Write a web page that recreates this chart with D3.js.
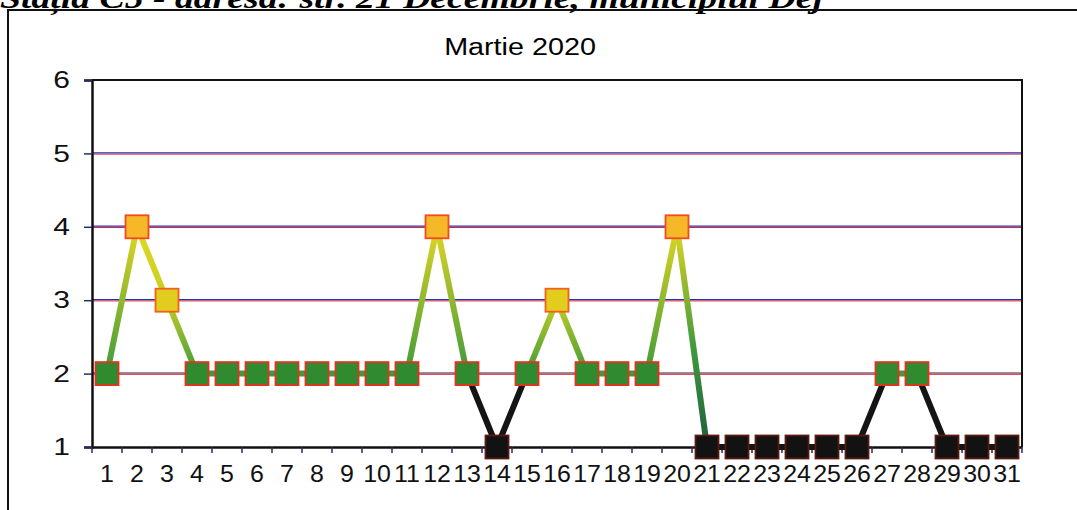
<!DOCTYPE html>
<html>
<head>
<meta charset="utf-8">
<script src="https://cdn.jsdelivr.net/npm/d3@7"></script>
<style>
  body { margin: 0; background: #fff; }
  svg { display: block; }
</style>
</head>
<body>
<svg width="1077" height="510"></svg>
<script>
// data
const days = d3.range(1, 32).map(String);
const values = [2, 4, 3, 2, 2, 2, 2, 2, 2, 2, 2, 4, 2, 1, 2, 3, 2, 2, 2, 4, 1, 1, 1, 1, 1, 1, 2, 2, 1, 1, 1];
const yTicks = [1, 2, 3, 4, 5, 6];
const chartTitle = 'Martie 2020';
const pageHeading = 'Stația C5 - adresa: str. 21 Decembrie, municipiul Dej';

const svg = d3.select('svg');
const margin = { left: 92, top: 80, right: 1022, bottom: 447 };
const stretch = 1.25;   // the scan is wider than it is tall
const font = 'Liberation Sans, Arial, sans-serif';

const x = d3.scaleBand().domain(days).range([margin.left, margin.right]);
const y = d3.scaleLinear().domain([1, 6]).range([margin.bottom, margin.top]);

const markerFill = { 1: '#121212', 2: '#2f8a30', 3: '#e2cc1e', 4: '#f6b828' };
const markerStroke = { 1: '#5a1a10', 2: '#e8301e', 3: '#f0601e', 4: '#f04a1e' };
const lineColor = { 1: '#141414', 2: '#3e9a3c', 3: '#c6d024', 4: '#e2d622' };

// page heading, cut off by the top edge of the scan
svg.append('text')
    .attr('transform', 'translate(0,8) scale(1.3,1)')
    .attr('font-family', 'Liberation Serif, serif')
    .attr('font-weight', 'bold').attr('font-style', 'italic')
    .attr('font-size', 29)
    .text(pageHeading);

// outer frame of the chart object
svg.append('path')
    .attr('d', 'M8,520 L8,10 L1090,10')
    .attr('fill', 'none').attr('stroke', '#111').attr('stroke-width', 2);

svg.append('text')
    .attr('transform', `translate(520,55) scale(${stretch},1)`)
    .attr('text-anchor', 'middle')
    .attr('font-family', font)
    .attr('font-size', 23)
    .text(chartTitle);

// gridlines (scan shows them as a blue/red pair)
const grid = svg.append('g');
yTicks.filter(v => v > 1 && v < 6).forEach(v => {
    grid.append('line')
        .attr('x1', margin.left).attr('x2', margin.right)
        .attr('y1', y(v) - 0.6).attr('y2', y(v) - 0.6)
        .attr('stroke', v === 2 ? '#301c30' : '#1a34b8').attr('stroke-width', 1.2);
    grid.append('line')
        .attr('x1', margin.left).attr('x2', margin.right)
        .attr('y1', y(v) + 0.7).attr('y2', y(v) + 0.7)
        .attr('stroke', '#dc2436').attr('stroke-width', 1);
});

// plot frame top + right
svg.append('path')
    .attr('d', `M${margin.left},${y(6)} L${margin.right},${y(6)} L${margin.right},${y(1)}`)
    .attr('fill', 'none').attr('stroke', '#111').attr('stroke-width', 2);

// y axis
const yAxis = svg.append('g')
    .attr('transform', `translate(${margin.left},0)`)
    .call(d3.axisLeft(y).tickValues(yTicks).tickSize(8).tickFormat(d3.format('d')));
yAxis.select('.domain').attr('stroke', '#111').attr('stroke-width', 2.5);
yAxis.selectAll('.tick line').attr('stroke', '#2a2a6a').attr('stroke-width', 1.5);
yAxis.selectAll('text')
    .attr('x', -22 / stretch)
    .attr('transform', `scale(${stretch},1)`)
    .attr('font-family', font)
    .attr('font-size', 24).attr('fill', '#111');

// x axis: ticks sit on the band boundaries
const xAxis = svg.append('g')
    .attr('transform', `translate(0,${margin.bottom})`)
    .call(d3.axisBottom(x).tickSize(0).tickPadding(18));
xAxis.select('.domain').attr('stroke', '#111').attr('stroke-width', 2.5);
xAxis.selectAll('text')
    .attr('transform', 'scale(1.04,1)')
    .attr('font-family', font)
    .attr('font-size', 24).attr('fill', '#111');
xAxis.selectAll('.bound')
    .data(days.concat(['end']))
    .join('line')
    .attr('x1', (d, i) => margin.left + i * x.bandwidth())
    .attr('x2', (d, i) => margin.left + i * x.bandwidth())
    .attr('y1', 0).attr('y2', 6)
    .attr('stroke', '#2a2a5a').attr('stroke-width', 1.5);

// connecting segments, each a gradient between its two ends
const defs = svg.append('defs');
const cx = i => x(days[i]) + x.bandwidth() / 2;
const segs = values.slice(1).map((v, i) => ({ a: values[i], b: v, i }));

function endColor(v, other) {
    if (v === 1 && other > 2) return '#1f5e3e';
    return lineColor[v];
}

segs.forEach(s => {
    const g = defs.append('linearGradient')
        .attr('id', 'seg' + s.i)
        .attr('gradientUnits', 'userSpaceOnUse')
        .attr('x1', cx(s.i)).attr('y1', y(s.a))
        .attr('x2', cx(s.i + 1)).attr('y2', y(s.b));
    let c0 = endColor(s.a, s.b), c1 = endColor(s.b, s.a);
    if (Math.min(s.a, s.b) === 1 && Math.max(s.a, s.b) === 2) { c0 = c1 = '#141414'; }
    g.append('stop').attr('offset', 0).attr('stop-color', c0);
    if (s.b === 1 && s.a > 2) g.append('stop').attr('offset', 0.55).attr('stop-color', lineColor[2]);
    g.append('stop').attr('offset', 1).attr('stop-color', c1);
});

svg.append('g').selectAll('line')
    .data(segs)
    .join('line')
    .attr('x1', d => cx(d.i))
    .attr('y1', d => y(d.a) + (d.a === d.b ? 0.001 : 0))
    .attr('x2', d => cx(d.i + 1))
    .attr('y2', d => y(d.b))
    .attr('stroke', d => `url(#seg${d.i})`)
    .attr('stroke-width', 6);

// markers
const ms = 23;
svg.append('g').selectAll('rect')
    .data(values)
    .join('rect')
    .attr('x', (d, i) => cx(i) - ms / 2)
    .attr('y', d => y(d) - ms / 2)
    .attr('width', ms).attr('height', ms)
    .attr('fill', d => markerFill[d])
    .attr('stroke', d => markerStroke[d])
    .attr('stroke-width', 1.8);
</script>
</body>
</html>
